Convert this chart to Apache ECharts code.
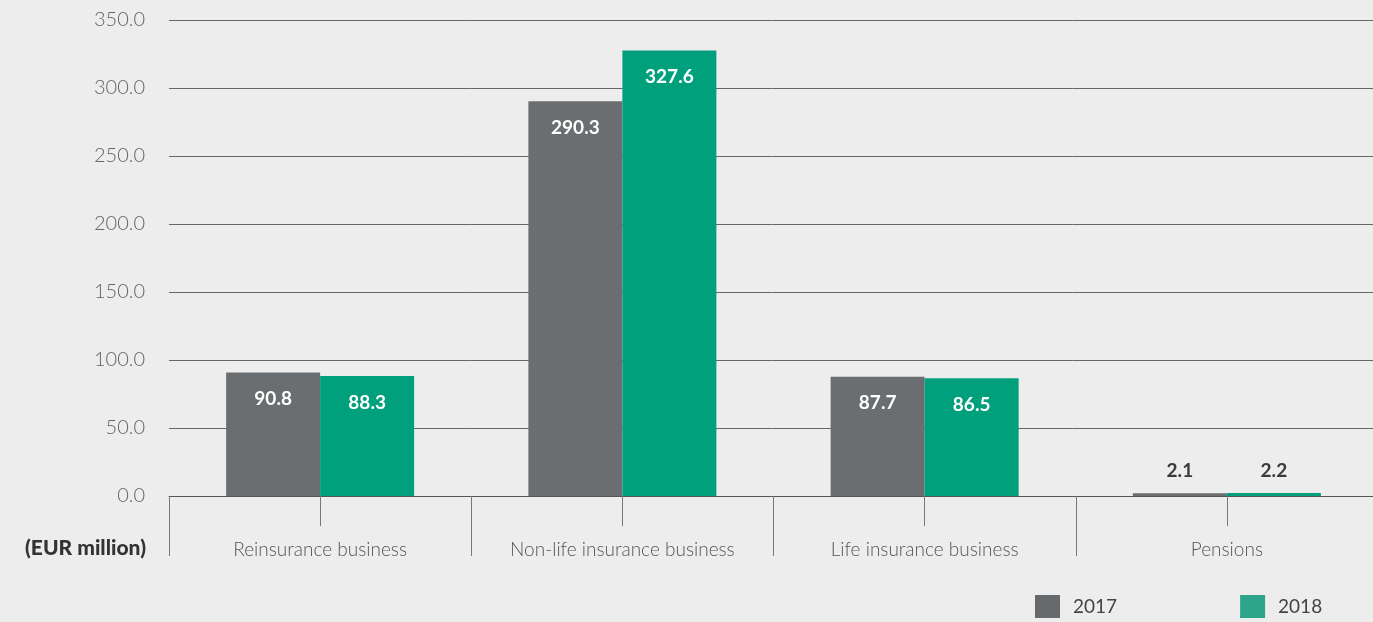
<!DOCTYPE html>
<html>
<head>
<meta charset="utf-8">
<script src="https://cdn.jsdelivr.net/npm/echarts@6/dist/echarts.min.js"></script>
<style>
  html, body { margin: 0; padding: 0; background: #ededed; }
  #chart { width: 1373px; height: 622px; }
</style>
</head>
<body>
<div id="chart"></div>
<script>
var categories = ["Reinsurance business", "Non-life insurance business", "Life insurance business", "Pensions"];
var seriesNames = ["2017", "2018"];
var values2017 = [90.8, 290.3, 87.7, 2.1];
var values2018 = [88.3, 327.6, 86.5, 2.2];
var yTicks = [0, 50, 100, 150, 200, 250, 300, 350];

var colors = ["#6b6e70", "#00a07d"];
var legendColors = ["#676a6c", "#2ea58b"];
var fontFam = "Lato, 'Open Sans', sans-serif";

// small bars get their label above the bar, in dark text
function buildData(arr){
    return arr.map(function(v){
        if (v < 10) {
            return { value: v, label: { position: 'top', distance: 13, color: '#3a3a3a' } };
        }
        return v;
    });
}

var myChart = echarts.init(document.getElementById('chart'));
var option = {
    backgroundColor: '#ededed',
    animation: false,
    grid: { left: 169, width: 1209, top: 20, bottom: 126, containLabel: false, outerBoundsMode: 'none' },
    legend: {
        left: 1030,
        top: 590,
        itemWidth: 25,
        itemHeight: 23,
        itemGap: 123,
        icon: 'rect',
        textStyle: { fontFamily: fontFam, fontSize: 19, color: '#444', padding: [0, 0, 0, 8] },
        data: [
            { name: seriesNames[0], itemStyle: { color: legendColors[0] } },
            { name: seriesNames[1], itemStyle: { color: legendColors[1] } }
        ]
    },
    graphic: [
        {
            type: 'text',
            right: 1373 - 146,
            top: 538,
            style: {
                text: '(EUR million)',
                fontFamily: fontFam,
                fontWeight: 900,
                fontSize: 21,
                fill: '#333'
            }
        }
    ],
    xAxis: [
        {
            type: 'category',
            data: categories,
            position: 'bottom',
            axisLine: { show: true, lineStyle: { color: '#555', width: 1 } },
            axisTick: { show: true, length: 60, alignWithLabel: false, lineStyle: { color: '#777' } },
            axisLabel: { margin: 44, fontFamily: fontFam, fontWeight: 300, fontSize: 19, color: '#555' },
            splitLine: { show: false }
        },
        {
            type: 'category',
            data: categories,
            position: 'bottom',
            axisLine: { show: false },
            axisTick: { show: true, length: 30, alignWithLabel: true, lineStyle: { color: '#777' } },
            axisLabel: { show: false },
            splitLine: { show: false }
        }
    ],
    yAxis: {
        type: 'value',
        min: yTicks[0],
        max: yTicks[yTicks.length - 1],
        interval: 50,
        axisLine: { show: false },
        axisTick: { show: false },
        axisLabel: {
            margin: 24,
            fontFamily: fontFam,
            fontWeight: 300,
            fontSize: 20,
            color: '#666',
            formatter: function(v){ return v.toFixed(1); }
        },
        splitLine: { show: true, lineStyle: { color: '#666', width: 1 } }
    },
    series: [
        {
            name: seriesNames[0],
            type: 'bar',
            barWidth: 94,
            barGap: '0%',
            itemStyle: { color: colors[0] },
            label: {
                show: true, position: 'insideTop', distance: 17,
                color: '#fff', fontFamily: fontFam, fontWeight: 'bold', fontSize: 19,
                formatter: function(p){ return p.value.toFixed(1); }
            },
            data: buildData(values2017)
        },
        {
            name: seriesNames[1],
            type: 'bar',
            barWidth: 94,
            barGap: '0%',
            itemStyle: { color: colors[1] },
            label: {
                show: true, position: 'insideTop', distance: 17,
                color: '#fff', fontFamily: fontFam, fontWeight: 'bold', fontSize: 19,
                formatter: function(p){ return p.value.toFixed(1); }
            },
            data: buildData(values2018)
        }
    ]
};
myChart.setOption(option);
</script>
</body>
</html>
